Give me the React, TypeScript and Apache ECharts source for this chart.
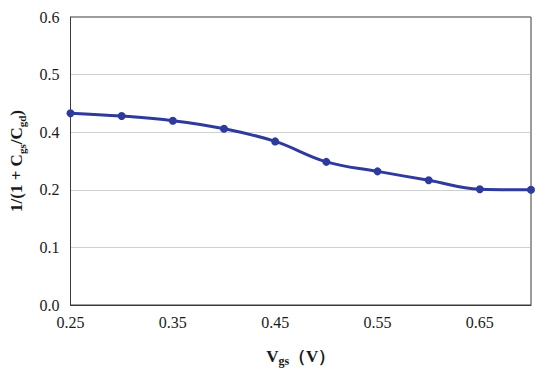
import React, { useEffect, useRef } from "react";
import * as echarts from "echarts";

// x categories (Vgs, V)
const xCategories = ["0.25", "0.30", "0.35", "0.40", "0.45", "0.50", "0.55", "0.60", "0.65", "0.70"];
// values read against the printed tick labels
const yValues = [0.433, 0.428, 0.42, 0.406, 0.368, 0.297, 0.264, 0.233, 0.202, 0.2];
// printed tick labels of the y axis (evenly spaced gridlines)
const yTickLabels = [0.0, 0.1, 0.2, 0.4, 0.5, 0.6];

// map a value onto the evenly spaced tick index scale
function toAxis(v: number): number {
  for (let i = 0; i < yTickLabels.length - 1; i++) {
    const a = yTickLabels[i];
    const b = yTickLabels[i + 1];
    if (v >= a && v <= b) return i + (v - a) / (b - a);
  }
  return v <= yTickLabels[0] ? 0 : yTickLabels.length - 1;
}

const FONT = "'Liberation Serif', 'Times New Roman', serif";

export default function App() {
  const ref = useRef<HTMLDivElement>(null);
  useEffect(() => {
    if (!ref.current) return;
    document.body.style.margin = "0";
    const chart = echarts.init(ref.current, null, { renderer: "svg" });
    chart.setOption({
      animation: false,
      backgroundColor: "#ffffff",
      grid: {
        left: 66,
        right: 19,
        top: 17,
        bottom: 66,
        show: true,
        borderColor: "#3a3a3a",
        borderWidth: 1,
        containLabel: false,
      },
      xAxis: {
        type: "category",
        data: xCategories,
        boundaryGap: false,
        axisLine: { show: true, lineStyle: { color: "#3a3a3a", width: 1 } },
        axisTick: { show: false },
        splitLine: { show: false },
        axisLabel: {
          interval: 1,
          margin: 9,
          color: "#1a1a1a",
          fontFamily: FONT,
          fontSize: 16,
        },
        name: "{v|V}{s|gs}{v|（V）}",
        nameLocation: "middle",
        nameGap: 40,
        nameTextStyle: {
          rich: {
            v: { fontFamily: FONT, fontSize: 17, fontWeight: "bold", color: "#1a1a1a", lineHeight: 22 },
            s: { fontFamily: FONT, fontSize: 12, fontWeight: "bold", color: "#1a1a1a", lineHeight: 13, verticalAlign: "bottom" },
          },
        },
      },
      yAxis: {
        type: "value",
        min: 0,
        max: yTickLabels.length - 1,
        interval: 1,
        axisLine: { show: true, lineStyle: { color: "#3a3a3a", width: 1 } },
        axisTick: { show: false },
        splitLine: { show: true, lineStyle: { color: "#a0a0a0", type: [1, 1], width: 1 } },
        axisLabel: {
          margin: 11,
          color: "#1a1a1a",
          fontFamily: FONT,
          fontSize: 16,
          formatter: (v: number) => {
            const idx = Math.round(v);
            return yTickLabels[idx] !== undefined ? yTickLabels[idx].toFixed(1) : "";
          },
        },
        name: "{v|1/(1 + C}{s|gs}{v|/C}{s|gd}{v|)}",
        nameLocation: "middle",
        nameGap: 43,
        nameRotate: 90,
        nameTextStyle: {
          rich: {
            v: { fontFamily: FONT, fontSize: 17, fontWeight: "bold", color: "#1a1a1a", lineHeight: 22 },
            s: { fontFamily: FONT, fontSize: 11, fontWeight: "bold", color: "#1a1a1a", lineHeight: 12, verticalAlign: "bottom" },
          },
        },
      },
      series: [
        {
          type: "line",
          data: yValues.map(toAxis),
          smooth: 0.4,
          symbol: "circle",
          symbolSize: 8,
          lineStyle: { color: "#2e3a9c", width: 3 },
          itemStyle: { color: "#2e3a9c" },
        },
      ],
    });
    return () => chart.dispose();
  }, []);
  return <div ref={ref} style={{ width: 550, height: 372, position: "absolute", left: 0, top: 0 }} />;
}
